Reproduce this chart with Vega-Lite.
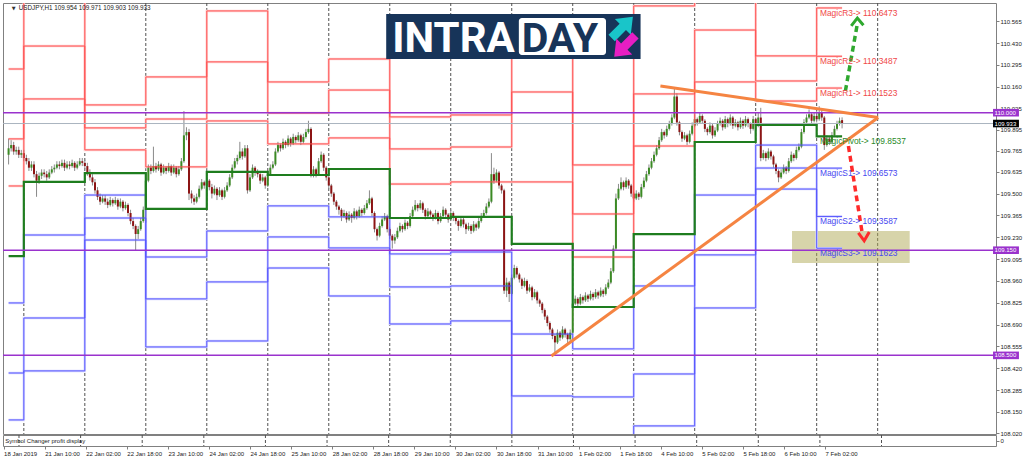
{
"$schema":"https://vega.github.io/schema/vega-lite/v6.json",
"background":"white",
"padding":{"left":1,"top":2,"right":0,"bottom":0},
"spacing":1,
"bounds":"flush",
"config":{"view":{"stroke":"#808080"},"axis":{"labelFont":"Liberation Sans","labelFontSize":6,"labelColor":"#222222","tickColor":"#808080","grid":false,"domain":false}},
"datasets":{
"sep":[{"i":6},{"i":30},{"i":54},{"i":78},{"i":102},{"i":126},{"i":150},{"i":174},{"i":198},{"i":222},{"i":246},{"i":270},{"i":294},{"i":318},{"i":342}],
"piv":[
{"i":0,"P":109.114,"R1":109.547,"R2":109.838,"R3":110.270,"S1":108.824,"S2":108.391,"S3":108.101},
{"i":6,"P":109.572,"R1":110.085,"R2":110.412,"R3":110.925,"S1":109.244,"S2":108.731,"S3":108.404},
{"i":30,"P":109.627,"R1":109.770,"R2":109.906,"R3":110.048,"S1":109.491,"S2":109.349,"S3":109.213},
{"i":54,"P":109.405,"R1":109.665,"R2":109.961,"R3":110.221,"S1":109.108,"S2":108.849,"S3":108.552},
{"i":78,"P":109.634,"R1":109.949,"R2":110.314,"R3":110.629,"S1":109.269,"S2":108.954,"S3":108.589},
{"i":102,"P":109.615,"R1":109.807,"R2":109.998,"R3":110.190,"S1":109.424,"S2":109.232,"S3":109.040},
{"i":126,"P":109.652,"R1":109.844,"R2":110.140,"R3":110.332,"S1":109.356,"S2":109.164,"S3":108.867},
{"i":150,"P":109.349,"R1":109.559,"R2":109.776,"R3":109.974,"S1":109.127,"S2":108.923,"S3":108.694},
{"i":174,"P":109.356,"R1":109.572,"R2":109.788,"R3":109.986,"S1":109.139,"S2":108.929,"S3":108.713},
{"i":198,"P":109.189,"R1":109.572,"R2":110.128,"R3":110.511,"S1":108.632,"S2":108.249,"S3":107.693},
{"i":222,"P":108.799,"R1":109.108,"R2":109.374,"R3":109.677,"S1":108.540,"S2":108.243,"S3":107.977},
{"i":246,"P":109.250,"R1":109.794,"R2":110.116,"R3":110.660,"S1":108.929,"S2":108.385,"S3":108.064},
{"i":270,"P":109.819,"R1":110.190,"R2":110.511,"R3":110.882,"S1":109.491,"S2":109.121,"S3":108.793},
{"i":294,"P":109.924,"R1":110.072,"R2":110.196,"R3":110.351,"S1":109.800,"S2":109.658,"S3":109.528},
{"i":318,"P":109.8537,"R1":110.1523,"R2":110.3487,"R3":110.6473,"S1":109.6573,"S2":109.3587,"S3":109.1623},
{"i":328,"P":109.8537,"R1":110.1523,"R2":110.3487,"R3":110.6473,"S1":109.6573,"S2":109.3587,"S3":109.1623}
],
"hl":[{"v":110.0},{"v":109.15},{"v":108.5}],
"tr":[{"g":"a","i":213.6,"v":108.496},{"g":"a","i":342.2,"v":109.97},{"g":"b","i":256.5,"v":110.165},{"g":"b","i":342.2,"v":109.97}],
"ga":[{"i":329.3,"v":110.134},{"i":333.9,"v":110.54}],
"gh":[{"i":331.6,"v":110.537},{"i":334.0,"v":110.585},{"i":336.4,"v":110.54}],
"ra":[{"i":330.5,"v":109.794},{"i":335.9,"v":109.257}],
"rh":[{"i":334.4,"v":109.257},{"i":336.7,"v":109.208},{"i":338.7,"v":109.263}],
"lbl":[
{"t":"MagicR3-> 110.6473","v":110.6473,"k":"R"},
{"t":"MagicR2-> 110.3487","v":110.3487,"k":"R"},
{"t":"MagicR1-> 110.1523","v":110.1523,"k":"R"},
{"t":"MagicPivot-> 109.8537","v":109.8537,"k":"P"},
{"t":"MagicS1-> 109.6573","v":109.6573,"k":"S"},
{"t":"MagicS2-> 109.3587","v":109.3587,"k":"S"},
{"t":"MagicS3-> 109.1623","v":109.1623,"k":"S"}],
"pb":[{"v":110.0,"t":"110.000","k":"h"},{"v":109.933,"t":"109.933","k":"b"},{"v":109.15,"t":"109.150","k":"h"},{"v":108.5,"t":"108.500","k":"h"}],
"cd":[
{"i":0,"o":109.74,"h":109.84,"l":109.68,"c":109.78},
{"i":1,"o":109.78,"h":109.83,"l":109.76,"c":109.80},
{"i":2,"o":109.80,"h":109.82,"l":109.74,"c":109.76},
{"i":3,"o":109.76,"h":109.79,"l":109.74,"c":109.77},
{"i":4,"o":109.77,"h":109.79,"l":109.72,"c":109.74},
{"i":5,"o":109.74,"h":109.77,"l":109.72,"c":109.75},
{"i":6,"o":109.75,"h":109.77,"l":109.70,"c":109.72},
{"i":7,"o":109.72,"h":109.74,"l":109.68,"c":109.70},
{"i":8,"o":109.70,"h":109.72,"l":109.64,"c":109.66},
{"i":9,"o":109.66,"h":109.70,"l":109.64,"c":109.68},
{"i":10,"o":109.68,"h":109.70,"l":109.60,"c":109.62},
{"i":11,"o":109.62,"h":109.64,"l":109.48,"c":109.58},
{"i":12,"o":109.58,"h":109.63,"l":109.56,"c":109.61},
{"i":13,"o":109.61,"h":109.65,"l":109.59,"c":109.63},
{"i":14,"o":109.63,"h":109.65,"l":109.60,"c":109.62},
{"i":15,"o":109.62,"h":109.64,"l":109.58,"c":109.60},
{"i":16,"o":109.60,"h":109.65,"l":109.59,"c":109.63},
{"i":17,"o":109.63,"h":109.67,"l":109.62,"c":109.65},
{"i":18,"o":109.65,"h":109.68,"l":109.63,"c":109.66},
{"i":19,"o":109.66,"h":109.70,"l":109.65,"c":109.68},
{"i":20,"o":109.68,"h":109.70,"l":109.65,"c":109.67},
{"i":21,"o":109.67,"h":109.71,"l":109.66,"c":109.69},
{"i":22,"o":109.69,"h":109.71,"l":109.64,"c":109.66},
{"i":23,"o":109.66,"h":109.70,"l":109.65,"c":109.68},
{"i":24,"o":109.68,"h":109.70,"l":109.65,"c":109.67},
{"i":25,"o":109.67,"h":109.71,"l":109.66,"c":109.69},
{"i":26,"o":109.69,"h":109.70,"l":109.64,"c":109.66},
{"i":27,"o":109.66,"h":109.70,"l":109.65,"c":109.68},
{"i":28,"o":109.68,"h":109.72,"l":109.67,"c":109.70},
{"i":29,"o":109.70,"h":109.72,"l":109.67,"c":109.69},
{"i":30,"o":109.69,"h":109.71,"l":109.65,"c":109.67},
{"i":31,"o":109.67,"h":109.69,"l":109.61,"c":109.63},
{"i":32,"o":109.63,"h":109.65,"l":109.58,"c":109.60},
{"i":33,"o":109.60,"h":109.62,"l":109.55,"c":109.57},
{"i":34,"o":109.57,"h":109.59,"l":109.50,"c":109.52},
{"i":35,"o":109.52,"h":109.54,"l":109.46,"c":109.48},
{"i":36,"o":109.48,"h":109.50,"l":109.43,"c":109.45},
{"i":37,"o":109.45,"h":109.49,"l":109.44,"c":109.47},
{"i":38,"o":109.47,"h":109.49,"l":109.43,"c":109.45},
{"i":39,"o":109.45,"h":109.47,"l":109.41,"c":109.43},
{"i":40,"o":109.43,"h":109.48,"l":109.42,"c":109.46},
{"i":41,"o":109.46,"h":109.47,"l":109.42,"c":109.44},
{"i":42,"o":109.44,"h":109.48,"l":109.43,"c":109.46},
{"i":43,"o":109.46,"h":109.47,"l":109.40,"c":109.42},
{"i":44,"o":109.42,"h":109.47,"l":109.41,"c":109.45},
{"i":45,"o":109.45,"h":109.46,"l":109.39,"c":109.41},
{"i":46,"o":109.41,"h":109.45,"l":109.40,"c":109.43},
{"i":47,"o":109.43,"h":109.44,"l":109.36,"c":109.38},
{"i":48,"o":109.38,"h":109.40,"l":109.31,"c":109.33},
{"i":49,"o":109.33,"h":109.35,"l":109.28,"c":109.30},
{"i":50,"o":109.30,"h":109.31,"l":109.15,"c":109.25},
{"i":51,"o":109.25,"h":109.30,"l":109.22,"c":109.28},
{"i":52,"o":109.28,"h":109.35,"l":109.27,"c":109.33},
{"i":53,"o":109.33,"h":109.42,"l":109.32,"c":109.40},
{"i":54,"o":109.40,"h":109.60,"l":109.32,"c":109.58},
{"i":55,"o":109.58,"h":109.68,"l":109.57,"c":109.66},
{"i":56,"o":109.66,"h":109.68,"l":109.62,"c":109.64},
{"i":57,"o":109.64,"h":109.79,"l":109.63,"c":109.67},
{"i":58,"o":109.67,"h":109.69,"l":109.63,"c":109.65},
{"i":59,"o":109.65,"h":109.70,"l":109.64,"c":109.68},
{"i":60,"o":109.68,"h":109.69,"l":109.61,"c":109.63},
{"i":61,"o":109.63,"h":109.68,"l":109.62,"c":109.66},
{"i":62,"o":109.66,"h":109.67,"l":109.62,"c":109.64},
{"i":63,"o":109.64,"h":109.69,"l":109.63,"c":109.67},
{"i":64,"o":109.67,"h":109.68,"l":109.61,"c":109.63},
{"i":65,"o":109.63,"h":109.68,"l":109.62,"c":109.66},
{"i":66,"o":109.66,"h":109.67,"l":109.60,"c":109.62},
{"i":67,"o":109.62,"h":109.67,"l":109.61,"c":109.65},
{"i":68,"o":109.65,"h":109.72,"l":109.64,"c":109.70},
{"i":69,"o":109.70,"h":110.01,"l":109.69,"c":109.86},
{"i":70,"o":109.86,"h":109.91,"l":109.83,"c":109.88},
{"i":71,"o":109.88,"h":109.90,"l":109.46,"c":109.50},
{"i":72,"o":109.50,"h":109.52,"l":109.44,"c":109.47},
{"i":73,"o":109.47,"h":109.49,"l":109.43,"c":109.45},
{"i":74,"o":109.45,"h":109.50,"l":109.44,"c":109.48},
{"i":75,"o":109.48,"h":109.55,"l":109.47,"c":109.53},
{"i":76,"o":109.53,"h":109.59,"l":109.52,"c":109.57},
{"i":77,"o":109.57,"h":109.58,"l":109.53,"c":109.55},
{"i":78,"o":109.55,"h":109.60,"l":109.54,"c":109.58},
{"i":79,"o":109.58,"h":109.59,"l":109.52,"c":109.54},
{"i":80,"o":109.54,"h":109.56,"l":109.47,"c":109.50},
{"i":81,"o":109.50,"h":109.55,"l":109.49,"c":109.53},
{"i":82,"o":109.53,"h":109.54,"l":109.46,"c":109.49},
{"i":83,"o":109.49,"h":109.54,"l":109.48,"c":109.52},
{"i":84,"o":109.52,"h":109.53,"l":109.46,"c":109.48},
{"i":85,"o":109.48,"h":109.54,"l":109.47,"c":109.52},
{"i":86,"o":109.52,"h":109.57,"l":109.51,"c":109.55},
{"i":87,"o":109.55,"h":109.62,"l":109.54,"c":109.60},
{"i":88,"o":109.60,"h":109.68,"l":109.59,"c":109.66},
{"i":89,"o":109.66,"h":109.72,"l":109.65,"c":109.70},
{"i":90,"o":109.70,"h":109.74,"l":109.68,"c":109.72},
{"i":91,"o":109.72,"h":109.82,"l":109.71,"c":109.76},
{"i":92,"o":109.76,"h":109.78,"l":109.71,"c":109.73},
{"i":93,"o":109.73,"h":109.80,"l":109.72,"c":109.78},
{"i":94,"o":109.78,"h":109.80,"l":109.50,"c":109.52},
{"i":95,"o":109.52,"h":109.62,"l":109.51,"c":109.60},
{"i":96,"o":109.60,"h":109.68,"l":109.59,"c":109.66},
{"i":97,"o":109.66,"h":109.67,"l":109.61,"c":109.63},
{"i":98,"o":109.63,"h":109.65,"l":109.60,"c":109.62},
{"i":99,"o":109.62,"h":109.63,"l":109.56,"c":109.58},
{"i":100,"o":109.58,"h":109.62,"l":109.57,"c":109.60},
{"i":101,"o":109.60,"h":109.61,"l":109.53,"c":109.55},
{"i":102,"o":109.55,"h":109.64,"l":109.54,"c":109.62},
{"i":103,"o":109.62,"h":109.68,"l":109.61,"c":109.66},
{"i":104,"o":109.66,"h":109.70,"l":109.65,"c":109.68},
{"i":105,"o":109.68,"h":109.78,"l":109.67,"c":109.76},
{"i":106,"o":109.76,"h":109.82,"l":109.75,"c":109.80},
{"i":107,"o":109.80,"h":109.81,"l":109.76,"c":109.78},
{"i":108,"o":109.78,"h":109.84,"l":109.77,"c":109.82},
{"i":109,"o":109.82,"h":109.83,"l":109.78,"c":109.80},
{"i":110,"o":109.80,"h":109.86,"l":109.79,"c":109.84},
{"i":111,"o":109.84,"h":109.85,"l":109.79,"c":109.81},
{"i":112,"o":109.81,"h":109.87,"l":109.80,"c":109.85},
{"i":113,"o":109.85,"h":109.86,"l":109.81,"c":109.83},
{"i":114,"o":109.83,"h":109.88,"l":109.82,"c":109.86},
{"i":115,"o":109.86,"h":109.87,"l":109.80,"c":109.82},
{"i":116,"o":109.82,"h":109.87,"l":109.81,"c":109.85},
{"i":117,"o":109.85,"h":109.90,"l":109.84,"c":109.88},
{"i":118,"o":109.88,"h":109.95,"l":109.87,"c":109.90},
{"i":119,"o":109.90,"h":109.91,"l":109.60,"c":109.62},
{"i":120,"o":109.62,"h":109.67,"l":109.60,"c":109.65},
{"i":121,"o":109.65,"h":109.66,"l":109.60,"c":109.62},
{"i":122,"o":109.62,"h":109.72,"l":109.61,"c":109.70},
{"i":123,"o":109.70,"h":109.76,"l":109.69,"c":109.74},
{"i":124,"o":109.74,"h":109.75,"l":109.64,"c":109.66},
{"i":125,"o":109.66,"h":109.67,"l":109.58,"c":109.60},
{"i":126,"o":109.60,"h":109.61,"l":109.53,"c":109.55},
{"i":127,"o":109.55,"h":109.56,"l":109.48,"c":109.50},
{"i":128,"o":109.50,"h":109.51,"l":109.43,"c":109.45},
{"i":129,"o":109.45,"h":109.46,"l":109.40,"c":109.42},
{"i":130,"o":109.42,"h":109.43,"l":109.37,"c":109.40},
{"i":131,"o":109.40,"h":109.41,"l":109.33,"c":109.36},
{"i":132,"o":109.36,"h":109.40,"l":109.35,"c":109.38},
{"i":133,"o":109.38,"h":109.39,"l":109.32,"c":109.34},
{"i":134,"o":109.34,"h":109.39,"l":109.33,"c":109.37},
{"i":135,"o":109.37,"h":109.38,"l":109.32,"c":109.35},
{"i":136,"o":109.35,"h":109.41,"l":109.34,"c":109.39},
{"i":137,"o":109.39,"h":109.40,"l":109.34,"c":109.36},
{"i":138,"o":109.36,"h":109.42,"l":109.35,"c":109.40},
{"i":139,"o":109.40,"h":109.41,"l":109.36,"c":109.38},
{"i":140,"o":109.38,"h":109.43,"l":109.37,"c":109.41},
{"i":141,"o":109.41,"h":109.46,"l":109.40,"c":109.44},
{"i":142,"o":109.44,"h":109.52,"l":109.43,"c":109.47},
{"i":143,"o":109.47,"h":109.48,"l":109.36,"c":109.38},
{"i":144,"o":109.38,"h":109.39,"l":109.26,"c":109.28},
{"i":145,"o":109.28,"h":109.29,"l":109.21,"c":109.24},
{"i":146,"o":109.24,"h":109.32,"l":109.23,"c":109.30},
{"i":147,"o":109.30,"h":109.36,"l":109.29,"c":109.34},
{"i":148,"o":109.34,"h":109.38,"l":109.33,"c":109.36},
{"i":149,"o":109.36,"h":109.37,"l":109.26,"c":109.28},
{"i":150,"o":109.28,"h":109.29,"l":109.22,"c":109.24},
{"i":151,"o":109.24,"h":109.25,"l":109.16,"c":109.21},
{"i":152,"o":109.21,"h":109.25,"l":109.19,"c":109.23},
{"i":153,"o":109.23,"h":109.29,"l":109.22,"c":109.27},
{"i":154,"o":109.27,"h":109.32,"l":109.26,"c":109.30},
{"i":155,"o":109.30,"h":109.31,"l":109.26,"c":109.28},
{"i":156,"o":109.28,"h":109.34,"l":109.27,"c":109.32},
{"i":157,"o":109.32,"h":109.33,"l":109.28,"c":109.30},
{"i":158,"o":109.30,"h":109.38,"l":109.29,"c":109.36},
{"i":159,"o":109.36,"h":109.42,"l":109.35,"c":109.40},
{"i":160,"o":109.40,"h":109.46,"l":109.39,"c":109.43},
{"i":161,"o":109.43,"h":109.44,"l":109.39,"c":109.41},
{"i":162,"o":109.41,"h":109.46,"l":109.40,"c":109.44},
{"i":163,"o":109.44,"h":109.45,"l":109.38,"c":109.40},
{"i":164,"o":109.40,"h":109.41,"l":109.34,"c":109.36},
{"i":165,"o":109.36,"h":109.41,"l":109.35,"c":109.39},
{"i":166,"o":109.39,"h":109.40,"l":109.35,"c":109.37},
{"i":167,"o":109.37,"h":109.38,"l":109.33,"c":109.35},
{"i":168,"o":109.35,"h":109.40,"l":109.34,"c":109.38},
{"i":169,"o":109.38,"h":109.39,"l":109.31,"c":109.33},
{"i":170,"o":109.33,"h":109.38,"l":109.32,"c":109.36},
{"i":171,"o":109.36,"h":109.42,"l":109.35,"c":109.40},
{"i":172,"o":109.40,"h":109.41,"l":109.35,"c":109.37},
{"i":173,"o":109.37,"h":109.38,"l":109.32,"c":109.34},
{"i":174,"o":109.34,"h":109.40,"l":109.33,"c":109.38},
{"i":175,"o":109.38,"h":109.39,"l":109.33,"c":109.35},
{"i":176,"o":109.35,"h":109.36,"l":109.31,"c":109.33},
{"i":177,"o":109.33,"h":109.34,"l":109.27,"c":109.30},
{"i":178,"o":109.30,"h":109.36,"l":109.29,"c":109.34},
{"i":179,"o":109.34,"h":109.35,"l":109.29,"c":109.31},
{"i":180,"o":109.31,"h":109.32,"l":109.25,"c":109.28},
{"i":181,"o":109.28,"h":109.32,"l":109.27,"c":109.30},
{"i":182,"o":109.30,"h":109.31,"l":109.25,"c":109.27},
{"i":183,"o":109.27,"h":109.33,"l":109.26,"c":109.31},
{"i":184,"o":109.31,"h":109.32,"l":109.27,"c":109.29},
{"i":185,"o":109.29,"h":109.35,"l":109.28,"c":109.33},
{"i":186,"o":109.33,"h":109.38,"l":109.32,"c":109.36},
{"i":187,"o":109.36,"h":109.40,"l":109.35,"c":109.38},
{"i":188,"o":109.38,"h":109.44,"l":109.37,"c":109.42},
{"i":189,"o":109.42,"h":109.47,"l":109.41,"c":109.45},
{"i":190,"o":109.45,"h":109.75,"l":109.44,"c":109.62},
{"i":191,"o":109.62,"h":109.66,"l":109.56,"c":109.58},
{"i":192,"o":109.58,"h":109.65,"l":109.57,"c":109.63},
{"i":193,"o":109.63,"h":109.64,"l":109.53,"c":109.55},
{"i":194,"o":109.55,"h":109.56,"l":109.50,"c":109.52},
{"i":195,"o":109.52,"h":109.53,"l":108.88,"c":108.90},
{"i":196,"o":108.90,"h":108.98,"l":108.86,"c":108.95},
{"i":197,"o":108.95,"h":108.96,"l":108.83,"c":108.88},
{"i":198,"o":108.88,"h":109.00,"l":108.87,"c":108.98},
{"i":199,"o":108.98,"h":109.06,"l":108.97,"c":109.04},
{"i":200,"o":109.04,"h":109.05,"l":108.98,"c":109.00},
{"i":201,"o":109.00,"h":109.01,"l":108.95,"c":108.97},
{"i":202,"o":108.97,"h":108.98,"l":108.91,"c":108.93},
{"i":203,"o":108.93,"h":108.98,"l":108.92,"c":108.96},
{"i":204,"o":108.96,"h":108.97,"l":108.88,"c":108.90},
{"i":205,"o":108.90,"h":108.94,"l":108.89,"c":108.92},
{"i":206,"o":108.92,"h":108.93,"l":108.84,"c":108.86},
{"i":207,"o":108.86,"h":108.91,"l":108.85,"c":108.89},
{"i":208,"o":108.89,"h":108.90,"l":108.82,"c":108.84},
{"i":209,"o":108.84,"h":108.85,"l":108.80,"c":108.82},
{"i":210,"o":108.82,"h":108.83,"l":108.76,"c":108.78},
{"i":211,"o":108.78,"h":108.79,"l":108.72,"c":108.74},
{"i":212,"o":108.74,"h":108.75,"l":108.68,"c":108.70},
{"i":213,"o":108.70,"h":108.71,"l":108.64,"c":108.66},
{"i":214,"o":108.66,"h":108.67,"l":108.60,"c":108.62},
{"i":215,"o":108.62,"h":108.63,"l":108.50,"c":108.58},
{"i":216,"o":108.58,"h":108.66,"l":108.57,"c":108.64},
{"i":217,"o":108.64,"h":108.65,"l":108.59,"c":108.61},
{"i":218,"o":108.61,"h":108.68,"l":108.60,"c":108.66},
{"i":219,"o":108.66,"h":108.67,"l":108.61,"c":108.63},
{"i":220,"o":108.63,"h":108.64,"l":108.57,"c":108.60},
{"i":221,"o":108.60,"h":108.66,"l":108.59,"c":108.64},
{"i":222,"o":108.64,"h":108.84,"l":108.63,"c":108.82},
{"i":223,"o":108.82,"h":108.87,"l":108.81,"c":108.85},
{"i":224,"o":108.85,"h":108.86,"l":108.80,"c":108.82},
{"i":225,"o":108.82,"h":108.88,"l":108.81,"c":108.86},
{"i":226,"o":108.86,"h":108.87,"l":108.82,"c":108.84},
{"i":227,"o":108.84,"h":108.89,"l":108.83,"c":108.87},
{"i":228,"o":108.87,"h":108.88,"l":108.83,"c":108.85},
{"i":229,"o":108.85,"h":108.90,"l":108.84,"c":108.88},
{"i":230,"o":108.88,"h":108.89,"l":108.84,"c":108.86},
{"i":231,"o":108.86,"h":108.91,"l":108.85,"c":108.89},
{"i":232,"o":108.89,"h":108.90,"l":108.85,"c":108.87},
{"i":233,"o":108.87,"h":108.92,"l":108.86,"c":108.90},
{"i":234,"o":108.90,"h":108.91,"l":108.86,"c":108.88},
{"i":235,"o":108.88,"h":108.94,"l":108.87,"c":108.92},
{"i":236,"o":108.92,"h":108.97,"l":108.91,"c":108.95},
{"i":237,"o":108.95,"h":109.04,"l":108.94,"c":109.02},
{"i":238,"o":109.02,"h":109.18,"l":109.01,"c":109.16},
{"i":239,"o":109.16,"h":109.50,"l":109.15,"c":109.47},
{"i":240,"o":109.47,"h":109.56,"l":109.46,"c":109.53},
{"i":241,"o":109.53,"h":109.60,"l":109.52,"c":109.57},
{"i":242,"o":109.57,"h":109.58,"l":109.52,"c":109.54},
{"i":243,"o":109.54,"h":109.60,"l":109.53,"c":109.58},
{"i":244,"o":109.58,"h":109.59,"l":109.53,"c":109.55},
{"i":245,"o":109.55,"h":109.56,"l":109.48,"c":109.50},
{"i":246,"o":109.50,"h":109.51,"l":109.45,"c":109.47},
{"i":247,"o":109.47,"h":109.52,"l":109.46,"c":109.50},
{"i":248,"o":109.50,"h":109.51,"l":109.46,"c":109.48},
{"i":249,"o":109.48,"h":109.56,"l":109.47,"c":109.54},
{"i":250,"o":109.54,"h":109.60,"l":109.53,"c":109.58},
{"i":251,"o":109.58,"h":109.64,"l":109.57,"c":109.62},
{"i":252,"o":109.62,"h":109.68,"l":109.61,"c":109.66},
{"i":253,"o":109.66,"h":109.72,"l":109.65,"c":109.70},
{"i":254,"o":109.70,"h":109.76,"l":109.69,"c":109.74},
{"i":255,"o":109.74,"h":109.80,"l":109.73,"c":109.78},
{"i":256,"o":109.78,"h":109.85,"l":109.77,"c":109.83},
{"i":257,"o":109.83,"h":109.90,"l":109.82,"c":109.88},
{"i":258,"o":109.88,"h":109.89,"l":109.84,"c":109.86},
{"i":259,"o":109.86,"h":109.92,"l":109.85,"c":109.90},
{"i":260,"o":109.90,"h":109.95,"l":109.89,"c":109.93},
{"i":261,"o":109.93,"h":109.99,"l":109.92,"c":109.97},
{"i":262,"o":109.97,"h":110.15,"l":109.96,"c":110.10},
{"i":263,"o":110.10,"h":110.12,"l":109.92,"c":109.94},
{"i":264,"o":109.94,"h":109.95,"l":109.86,"c":109.88},
{"i":265,"o":109.88,"h":109.89,"l":109.82,"c":109.84},
{"i":266,"o":109.84,"h":109.88,"l":109.83,"c":109.86},
{"i":267,"o":109.86,"h":109.87,"l":109.80,"c":109.82},
{"i":268,"o":109.82,"h":109.89,"l":109.81,"c":109.87},
{"i":269,"o":109.87,"h":109.94,"l":109.86,"c":109.92},
{"i":270,"o":109.92,"h":109.99,"l":109.91,"c":109.96},
{"i":271,"o":109.96,"h":109.97,"l":109.92,"c":109.94},
{"i":272,"o":109.94,"h":110.00,"l":109.93,"c":109.98},
{"i":273,"o":109.98,"h":109.99,"l":109.93,"c":109.95},
{"i":274,"o":109.95,"h":109.96,"l":109.88,"c":109.90},
{"i":275,"o":109.90,"h":109.91,"l":109.86,"c":109.88},
{"i":276,"o":109.88,"h":109.94,"l":109.87,"c":109.92},
{"i":277,"o":109.92,"h":109.93,"l":109.84,"c":109.86},
{"i":278,"o":109.86,"h":109.91,"l":109.85,"c":109.89},
{"i":279,"o":109.89,"h":109.95,"l":109.88,"c":109.93},
{"i":280,"o":109.93,"h":109.97,"l":109.92,"c":109.95},
{"i":281,"o":109.95,"h":109.96,"l":109.89,"c":109.91},
{"i":282,"o":109.91,"h":109.98,"l":109.90,"c":109.96},
{"i":283,"o":109.96,"h":109.97,"l":109.91,"c":109.93},
{"i":284,"o":109.93,"h":109.99,"l":109.92,"c":109.97},
{"i":285,"o":109.97,"h":109.98,"l":109.90,"c":109.92},
{"i":286,"o":109.92,"h":109.96,"l":109.91,"c":109.94},
{"i":287,"o":109.94,"h":109.95,"l":109.89,"c":109.91},
{"i":288,"o":109.91,"h":109.97,"l":109.90,"c":109.95},
{"i":289,"o":109.95,"h":109.96,"l":109.90,"c":109.92},
{"i":290,"o":109.92,"h":109.98,"l":109.91,"c":109.96},
{"i":291,"o":109.96,"h":109.97,"l":109.91,"c":109.93},
{"i":292,"o":109.93,"h":109.94,"l":109.87,"c":109.90},
{"i":293,"o":109.90,"h":109.98,"l":109.89,"c":109.96},
{"i":294,"o":109.96,"h":109.97,"l":109.90,"c":109.92},
{"i":295,"o":109.92,"h":110.00,"l":109.91,"c":109.97},
{"i":296,"o":109.97,"h":110.03,"l":109.70,"c":109.72},
{"i":297,"o":109.72,"h":109.77,"l":109.71,"c":109.75},
{"i":298,"o":109.75,"h":109.76,"l":109.70,"c":109.72},
{"i":299,"o":109.72,"h":109.78,"l":109.71,"c":109.76},
{"i":300,"o":109.76,"h":109.77,"l":109.71,"c":109.73},
{"i":301,"o":109.73,"h":109.74,"l":109.66,"c":109.68},
{"i":302,"o":109.68,"h":109.69,"l":109.62,"c":109.64},
{"i":303,"o":109.64,"h":109.65,"l":109.57,"c":109.60},
{"i":304,"o":109.60,"h":109.65,"l":109.59,"c":109.63},
{"i":305,"o":109.63,"h":109.68,"l":109.62,"c":109.66},
{"i":306,"o":109.66,"h":109.67,"l":109.62,"c":109.64},
{"i":307,"o":109.64,"h":109.72,"l":109.63,"c":109.70},
{"i":308,"o":109.70,"h":109.76,"l":109.69,"c":109.74},
{"i":309,"o":109.74,"h":109.75,"l":109.70,"c":109.72},
{"i":310,"o":109.72,"h":109.79,"l":109.71,"c":109.77},
{"i":311,"o":109.77,"h":109.81,"l":109.76,"c":109.79},
{"i":312,"o":109.79,"h":109.90,"l":109.78,"c":109.88},
{"i":313,"o":109.88,"h":109.96,"l":109.87,"c":109.94},
{"i":314,"o":109.94,"h":109.99,"l":109.93,"c":109.97},
{"i":315,"o":109.97,"h":110.02,"l":109.96,"c":109.99},
{"i":316,"o":109.99,"h":110.00,"l":109.93,"c":109.95},
{"i":317,"o":109.95,"h":110.00,"l":109.94,"c":109.98},
{"i":318,"o":109.98,"h":110.01,"l":109.94,"c":109.96},
{"i":319,"o":109.96,"h":110.04,"l":109.95,"c":110.00},
{"i":320,"o":110.00,"h":110.02,"l":109.95,"c":109.97},
{"i":321,"o":109.97,"h":109.98,"l":109.77,"c":109.80},
{"i":322,"o":109.80,"h":109.86,"l":109.79,"c":109.84},
{"i":323,"o":109.84,"h":109.85,"l":109.80,"c":109.82},
{"i":324,"o":109.82,"h":109.88,"l":109.81,"c":109.86},
{"i":325,"o":109.86,"h":109.92,"l":109.85,"c":109.90},
{"i":326,"o":109.90,"h":109.95,"l":109.89,"c":109.93},
{"i":327,"o":109.93,"h":109.97,"l":109.92,"c":109.95},
{"i":328,"o":109.954,"h":109.971,"l":109.903,"c":109.933}
]
},
"vconcat":[
{
"width":993,"height":431,
"resolve":{"axis":{"x":"independent","y":"independent"}},
"layer":[
{"data":{"name":"sep"},"mark":{"type":"rule","strokeDash":[3,2],"color":"#505050","strokeWidth":1},
 "encoding":{"x":{"field":"i","type":"quantitative","scale":{"domain":[-0.23,386.6],"nice":false,"zero":false},"axis":null}}},
{"data":{"values":[{}]},"mark":{"type":"rect","color":"#b0aa55","opacity":0.5},
 "encoding":{"x":{"datum":308.3,"type":"quantitative","scale":{"domain":[-0.23,386.6],"nice":false,"zero":false},"axis":null},"x2":{"datum":354.6},
 "y":{"datum":109.269,"type":"quantitative","scale":{"domain":[108.014,110.678],"nice":false,"zero":false},"axis":null},"y2":{"datum":109.071}}},
{"data":{"name":"piv"},"transform":[{"fold":["R1","R2","R3"],"as":["lvl","v"]}],
 "mark":{"type":"line","interpolate":"step-after","color":"#ffd2d2","strokeWidth":2.5,"clip":true},
 "encoding":{"x":{"field":"i","type":"quantitative","scale":{"domain":[-0.23,386.6],"nice":false,"zero":false},"axis":null},
 "y":{"field":"v","type":"quantitative","scale":{"domain":[108.014,110.678],"nice":false,"zero":false},"axis":null},"detail":{"field":"lvl"}}},
{"data":{"name":"piv"},"transform":[{"fold":["S1","S2","S3"],"as":["lvl","v"]}],
 "mark":{"type":"line","interpolate":"step-after","color":"#d6d6ff","strokeWidth":2.5,"clip":true},
 "encoding":{"x":{"field":"i","type":"quantitative","scale":{"domain":[-0.23,386.6],"nice":false,"zero":false},"axis":null},
 "y":{"field":"v","type":"quantitative","scale":{"domain":[108.014,110.678],"nice":false,"zero":false},"axis":null},"detail":{"field":"lvl"}}},
{"data":{"name":"cd"},"mark":{"type":"rule","color":"#8a8a8a","strokeWidth":1},
 "encoding":{"x":{"field":"i","type":"quantitative","scale":{"domain":[-0.23,386.6],"nice":false,"zero":false},"axis":null},
 "y":{"field":"l","type":"quantitative","scale":{"domain":[108.014,110.678],"nice":false,"zero":false},
  "axis":{"orient":"right","title":null,"values":[110.565,110.43,110.295,110.16,110.025,109.895,109.765,109.635,109.5,109.365,109.23,109.095,108.96,108.825,108.69,108.555,108.42,108.285,108.15,108.02],"format":".3f","tickSize":3,"labelPadding":1,"labelBound":false,"labelOverlap":false,"labelFlush":false}},
 "y2":{"field":"h"}}},
{"data":{"name":"cd"},"mark":{"type":"bar","width":2},
 "encoding":{"x":{"field":"i","type":"quantitative","scale":{"domain":[-0.23,386.6],"nice":false,"zero":false},"axis":null},
 "y":{"field":"o","type":"quantitative","scale":{"domain":[108.014,110.678],"nice":false,"zero":false},"axis":null},"y2":{"field":"c"},
 "color":{"condition":{"test":"datum.c >= datum.o","value":"#3b8a24"},"value":"#8c1414"}}},
{"data":{"name":"piv"},"transform":[{"fold":["R1","R2","R3"],"as":["lvl","v"]}],
 "mark":{"type":"line","interpolate":"step-after","color":"#ff5050","strokeWidth":1,"clip":true},
 "encoding":{"x":{"field":"i","type":"quantitative","scale":{"domain":[-0.23,386.6],"nice":false,"zero":false},"axis":null},
 "y":{"field":"v","type":"quantitative","scale":{"domain":[108.014,110.678],"nice":false,"zero":false},"axis":null},"detail":{"field":"lvl"}}},
{"data":{"name":"piv"},"transform":[{"fold":["S1","S2","S3"],"as":["lvl","v"]}],
 "mark":{"type":"line","interpolate":"step-after","color":"#5555ff","strokeWidth":1,"clip":true},
 "encoding":{"x":{"field":"i","type":"quantitative","scale":{"domain":[-0.23,386.6],"nice":false,"zero":false},"axis":null},
 "y":{"field":"v","type":"quantitative","scale":{"domain":[108.014,110.678],"nice":false,"zero":false},"axis":null},"detail":{"field":"lvl"}}},
{"data":{"name":"piv"},
 "mark":{"type":"line","interpolate":"step-after","color":"#1e7d1e","strokeWidth":2.2,"clip":true},
 "encoding":{"x":{"field":"i","type":"quantitative","scale":{"domain":[-0.23,386.6],"nice":false,"zero":false},"axis":null},
 "y":{"field":"P","type":"quantitative","scale":{"domain":[108.014,110.678],"nice":false,"zero":false},"axis":null}}},
{"data":{"name":"hl"},"mark":{"type":"rule","color":"#9a32cd","strokeWidth":1.5},
 "encoding":{"y":{"field":"v","type":"quantitative","scale":{"domain":[108.014,110.678],"nice":false,"zero":false},"axis":null}}},
{"data":{"values":[{}]},"mark":{"type":"rule","color":"#aab4bf","strokeWidth":1},
 "encoding":{"y":{"datum":109.933,"type":"quantitative","scale":{"domain":[108.014,110.678],"nice":false,"zero":false},"axis":null}}},
{"data":{"name":"tr"},"mark":{"type":"line","color":"#f58442","strokeWidth":3},
 "encoding":{"x":{"field":"i","type":"quantitative","scale":{"domain":[-0.23,386.6],"nice":false,"zero":false},"axis":null},
 "y":{"field":"v","type":"quantitative","scale":{"domain":[108.014,110.678],"nice":false,"zero":false},"axis":null},"detail":{"field":"g"}}},
{"data":{"name":"ga"},"mark":{"type":"line","color":"#2fa82f","strokeWidth":3.5,"strokeDash":[6,4]},
 "encoding":{"x":{"field":"i","type":"quantitative","scale":{"domain":[-0.23,386.6],"nice":false,"zero":false},"axis":null},
 "y":{"field":"v","type":"quantitative","scale":{"domain":[108.014,110.678],"nice":false,"zero":false},"axis":null}}},
{"data":{"name":"gh"},"mark":{"type":"line","color":"#2fa82f","strokeWidth":3},
 "encoding":{"x":{"field":"i","type":"quantitative","scale":{"domain":[-0.23,386.6],"nice":false,"zero":false},"axis":null},
 "y":{"field":"v","type":"quantitative","scale":{"domain":[108.014,110.678],"nice":false,"zero":false},"axis":null}}},
{"data":{"name":"ra"},"mark":{"type":"line","color":"#ff2a2a","strokeWidth":3.5,"strokeDash":[6,4]},
 "encoding":{"x":{"field":"i","type":"quantitative","scale":{"domain":[-0.23,386.6],"nice":false,"zero":false},"axis":null},
 "y":{"field":"v","type":"quantitative","scale":{"domain":[108.014,110.678],"nice":false,"zero":false},"axis":null}}},
{"data":{"name":"rh"},"mark":{"type":"line","color":"#ff2a2a","strokeWidth":3},
 "encoding":{"x":{"field":"i","type":"quantitative","scale":{"domain":[-0.23,386.6],"nice":false,"zero":false},"axis":null},
 "y":{"field":"v","type":"quantitative","scale":{"domain":[108.014,110.678],"nice":false,"zero":false},"axis":null}}},
{"data":{"name":"lbl"},"mark":{"type":"text","align":"left","baseline":"top","dy":1,"font":"Liberation Sans","fontSize":8.4},
 "encoding":{"x":{"datum":319.3,"type":"quantitative","scale":{"domain":[-0.23,386.6],"nice":false,"zero":false},"axis":null},
 "y":{"field":"v","type":"quantitative","scale":{"domain":[108.014,110.678],"nice":false,"zero":false},"axis":null},"text":{"field":"t"},
 "color":{"condition":[{"test":"datum.k==='R'","value":"#f04848"},{"test":"datum.k==='P'","value":"#2a8a2a"}],"value":"#4848f0"}}},
{"data":{"name":"pb"},"mark":{"type":"rect","yOffset":-3.8,"y2Offset":3.8},
 "encoding":{"x":{"datum":387.4,"type":"quantitative","scale":{"domain":[-0.23,386.6],"nice":false,"zero":false},"axis":null},"x2":{"datum":397.6},
 "y":{"field":"v","type":"quantitative","scale":{"domain":[108.014,110.678],"nice":false,"zero":false},"axis":null},"y2":{"field":"v"},
 "color":{"condition":{"test":"datum.k==='b'","value":"#000000"},"value":"#9a32cd"}}},
{"data":{"name":"pb"},"mark":{"type":"text","align":"left","baseline":"middle","color":"#ffffff","font":"Liberation Sans","fontSize":6},
 "encoding":{"x":{"datum":388.0,"type":"quantitative","scale":{"domain":[-0.23,386.6],"nice":false,"zero":false},"axis":null},
 "y":{"field":"v","type":"quantitative","scale":{"domain":[108.014,110.678],"nice":false,"zero":false},"axis":null},"text":{"field":"t"}}},
{"data":{"values":[{"t":"▼"}]},"mark":{"type":"text","align":"left","baseline":"middle","color":"#333333","font":"DejaVu Sans","fontSize":5},
 "encoding":{"x":{"datum":1.2,"type":"quantitative","scale":{"domain":[-0.23,386.6],"nice":false,"zero":false},"axis":null},
 "y":{"datum":110.647,"type":"quantitative","scale":{"domain":[108.014,110.678],"nice":false,"zero":false},"axis":null},"text":{"field":"t"}}},
{"data":{"values":[{"t":"USDJPY,H1  109.954 109.971 109.903 109.933"}]},"mark":{"type":"text","align":"left","baseline":"middle","color":"#222222","font":"Liberation Sans","fontSize":6.3},
 "encoding":{"x":{"datum":4.0,"type":"quantitative","scale":{"domain":[-0.23,386.6],"nice":false,"zero":false},"axis":null},
 "y":{"datum":110.647,"type":"quantitative","scale":{"domain":[108.014,110.678],"nice":false,"zero":false},"axis":null},"text":{"field":"t"}}},
{"data":{"values":[{}]},"mark":{"type":"rect","color":"#173459"},
 "encoding":{"x":{"datum":148.6,"type":"quantitative","scale":{"domain":[-0.23,386.6],"nice":false,"zero":false},"axis":null},"x2":{"datum":248.7},
 "y":{"datum":110.610,"type":"quantitative","scale":{"domain":[108.014,110.678],"nice":false,"zero":false},"axis":null},"y2":{"datum":110.332}}},
{"data":{"values":[{}]},"mark":{"type":"rect","color":"#ffffff","cornerRadius":3},
 "encoding":{"x":{"datum":200.8,"type":"quantitative","scale":{"domain":[-0.23,386.6],"nice":false,"zero":false},"axis":null},"x2":{"datum":235.1},
 "y":{"datum":110.585,"type":"quantitative","scale":{"domain":[108.014,110.678],"nice":false,"zero":false},"axis":null},"y2":{"datum":110.357}}},
{"data":{"values":[{"t":"INTRA"}]},"mark":{"type":"text","align":"left","baseline":"alphabetic","color":"#ffffff","font":"Roboto","fontWeight":"bold","fontSize":42},
 "encoding":{"x":{"datum":151.0,"type":"quantitative","scale":{"domain":[-0.23,386.6],"nice":false,"zero":false},"axis":null},
 "y":{"datum":110.375,"type":"quantitative","scale":{"domain":[108.014,110.678],"nice":false,"zero":false},"axis":null},"text":{"field":"t"}}},
{"data":{"values":[{"t":"DAY"}]},"mark":{"type":"text","align":"left","baseline":"alphabetic","color":"#173459","font":"Roboto","fontWeight":"bold","fontSize":41},
 "encoding":{"x":{"datum":201.9,"type":"quantitative","scale":{"domain":[-0.23,386.6],"nice":false,"zero":false},"axis":null},
 "y":{"datum":110.375,"type":"quantitative","scale":{"domain":[108.014,110.678],"nice":false,"zero":false},"axis":null},"text":{"field":"t"}}},
{"data":{"values":[{}]},"mark":{"type":"point","filled":true,"opacity":1,"color":"#19c5c9","size":900,"angle":45,"shape":"M-0.3,1L0.3,1L0.3,-0.05L0.75,-0.05L0,-1L-0.75,-0.05L-0.3,-0.05Z"},
 "encoding":{"x":{"datum":241.5,"type":"quantitative","scale":{"domain":[-0.23,386.6],"nice":false,"zero":false},"axis":null},
 "y":{"datum":110.527,"type":"quantitative","scale":{"domain":[108.014,110.678],"nice":false,"zero":false},"axis":null}}},
{"data":{"values":[{}]},"mark":{"type":"point","filled":true,"opacity":1,"color":"#e61ec3","size":900,"angle":225,"shape":"M-0.3,1L0.3,1L0.3,-0.05L0.75,-0.05L0,-1L-0.75,-0.05L-0.3,-0.05Z"},
 "encoding":{"x":{"datum":242.5,"type":"quantitative","scale":{"domain":[-0.23,386.6],"nice":false,"zero":false},"axis":null},
 "y":{"datum":110.412,"type":"quantitative","scale":{"domain":[108.014,110.678],"nice":false,"zero":false},"axis":null}}}
]
},
{
"width":993,"height":11,
"resolve":{"axis":{"x":"independent","y":"independent"}},
"layer":[
{"data":{"name":"sep"},"mark":{"type":"rule","strokeDash":[3,2],"color":"#505050","strokeWidth":1},
 "encoding":{"x":{"field":"i","type":"quantitative","scale":{"domain":[-0.23,386.6],"nice":false,"zero":false},"axis":null}}},
{"data":{"values":[{"i":0.6,"v":0.5,"t":"Symbol Changer profit display"}]},
 "mark":{"type":"text","align":"left","baseline":"middle","font":"Liberation Sans","fontSize":6,"color":"#222222"},
 "encoding":{"x":{"field":"i","type":"quantitative","scale":{"domain":[-0.23,386.6],"nice":false,"zero":false},
  "axis":{"orient":"bottom","title":null,"values":[0,16,32,48,64,80,96,112,128,144,160,176,192,208,224,240,256,272,288,304,320],
  "labelExpr":"['18 Jan 2019','21 Jan 10:00','22 Jan 02:00','22 Jan 18:00','23 Jan 10:00','24 Jan 02:00','24 Jan 18:00','25 Jan 10:00','28 Jan 02:00','28 Jan 18:00','29 Jan 10:00','30 Jan 02:00','30 Jan 18:00','31 Jan 10:00','1 Feb 02:00','1 Feb 18:00','4 Feb 10:00','5 Feb 02:00','5 Feb 18:00','6 Feb 10:00','7 Feb 02:00'][round(datum.value/16)]",
  "labelAlign":"left","tickSize":3,"labelPadding":1,"labelOverlap":false,"labelBound":false,"labelFlush":false}},
 "y":{"field":"v","type":"quantitative","scale":{"domain":[0,1]},"axis":{"orient":"right","title":null,"values":[0.5],"labelExpr":"'0'","tickSize":3,"labelPadding":1}},
 "text":{"field":"t"}}}
]
}
]
}
